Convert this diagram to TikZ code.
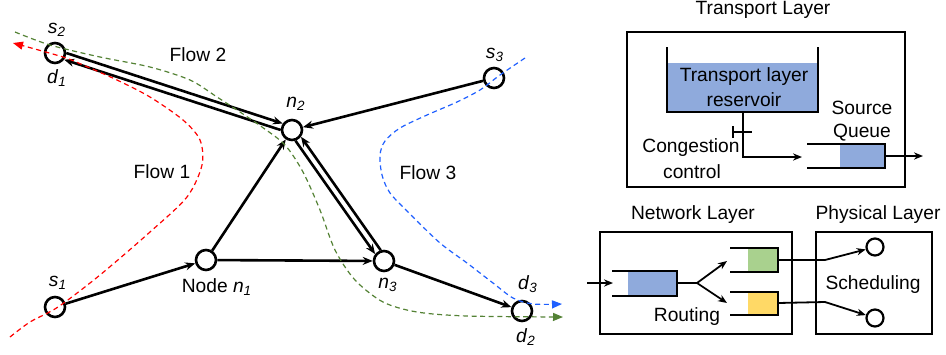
\documentclass[tikz,border=0pt]{standalone}
\usepackage{fontspec}
\setmainfont{Liberation Sans}
\usetikzlibrary{arrows.meta}
\definecolor{flowred}{HTML}{FF0000}
\definecolor{flowgreen}{HTML}{548235}
\definecolor{flowblue}{HTML}{1F5FFF}
\definecolor{qblue}{HTML}{8FAADC}
\definecolor{qgreen}{HTML}{A9D18E}
\definecolor{qyellow}{HTML}{FFD966}
\newcommand{\nlbl}[2]{\textit{#1}\textsubscript{\textit{#2}}}

\begin{document}
\begin{tikzpicture}[x=0.5pt,y=-0.5pt,font=\fontsize{9.6}{11}\selectfont,
    vertex/.style={circle,draw,line width=1.3pt,minimum size=10pt,inner sep=0pt},
    port/.style={circle,draw,line width=1.1pt,minimum size=8.5pt,inner sep=0pt},
    arr/.style={-{Stealth[length=5pt,width=4pt]},line width=1.3pt},
    link/.style={line width=0.9pt},
    linkarr/.style={-{Stealth[length=4.5pt,width=3.6pt]},line width=0.9pt},
    flow/.style={dash pattern=on 2.5pt off 1.8pt,line width=0.6pt,-{Triangle[length=5pt,width=4pt]}},
    wall/.style={line width=1.3pt}]
        \useasboundingbox (0,0) rectangle (946,354);
        % Draw the nodes of the network
        \node[vertex] (s2) at (55,53) {};
        \node[vertex] (n2) at (292,130) {};
        \node[vertex] (s3) at (494,78) {};
        \node[vertex] (n1) at (206,260) {};
        \node[vertex] (s1) at (55,307) {};
        \node[vertex] (n3) at (384,261) {};
        \node[vertex] (d2) at (522,311) {};
        % Draw the node labels
        \node (s2lbl) at (57,30) {\nlbl{s}{2}};
        \node (d1lbl) at (57,78) {\nlbl{d}{1}};
        \node (n2lbl) at (296,104) {\nlbl{n}{2}};
        \node (s3lbl) at (495,55) {\nlbl{s}{3}};
        \node (n1lbl) at (217,287) {Node \nlbl{n}{1}};
        \node (s1lbl) at (58,283) {\nlbl{s}{1}};
        \node (n3lbl) at (388,285) {\nlbl{n}{3}};
        \node (d3lbl) at (528,284) {\nlbl{d}{3}};
        \node (d2lbl) at (526,337) {\nlbl{d}{2}};
        % Draw the links
        \draw[arr] (s2.0) -- (n2.145);
        \draw[arr] (n2.180) -- (s2.-36);
        \draw[arr] (s3) -- (n2);
        \draw[arr] (n1) -- (n2);
        \draw[arr] (s1) -- (n1);
        \draw[arr] (n1) -- (n3);
        \draw[arr] (n2.-72) -- (n3.142);
        \draw[arr] (n3.107) -- (n2.-37);
        \draw[arr] (n3) -- (d2);
        % Draw the flows
        \draw[flow,flowred] plot[smooth] coordinates {(10,337) (30,322) (58,307) (100,275) (150,232) (187,197) (202,165) (200,140) (183,120) (150,97) (117,80) (83,65) (63,57) (13,43)};
        \draw[flow,flowgreen] plot[smooth] coordinates {(15,32) (50,45) (100,57) (150,67) (190,80) (217,97) (240,112) (262,127) (285,145) (303,172) (320,210) (335,250) (355,280) (383,302) (417,312) (467,316) (563,317)};
        \draw[flow,flowblue] plot[smooth] coordinates {(525,58) (500,75) (480,90) (457,102) (427,115) (400,128) (385,141) (380,155) (382,175) (390,193) (410,214) (440,243) (467,263) (493,283) (513,298) (533,304) (562,304)};
        \node (flow1) at (162,172) {Flow 1};
        \node (flow2) at (198,55) {Flow 2};
        \node (flow3) at (428,173) {Flow 3};
        % Draw the transport layer
        \node (tlayer) at (763,10) {Transport Layer};
        \draw[wall] (627,32) rectangle (905,187);
        \fill[qblue] (667,63) rectangle (818,112);
        \draw[wall] (667,47) -- (667,112) -- (818,112) -- (818,47);
        \node (res1) at (744,77) {Transport layer};
        \node (res2) at (744,100) {reservoir};
        \draw[linkarr] (743,112) -- (743,157) -- (802,157);
        \draw[link] (733,126) -- (733,138);
        \draw[link] (733,132) -- (752,132);
        \node (cc1) at (691,148) {Congestion};
        \node (cc2) at (692,172) {control};
        \node (sq1) at (862,108) {Source};
        \node (sq2) at (862,133) {Queue};
        \fill[qblue] (840,144) rectangle (885,168);
        \draw[wall] (807,144) -- (885,144) -- (885,168) -- (807,168);
        \draw[linkarr] (885,156) -- (923,156);
        % Draw the network layer
        \node (nlayer) at (693,215) {Network Layer};
        \draw[wall] (600,232) rectangle (792,334);
        \draw[linkarr] (587,283) -- (613,283);
        \fill[qblue] (628,271) rectangle (677,296);
        \draw[wall] (612,271) -- (677,271) -- (677,296) -- (612,296);
        \draw[link] (677,283) -- (697,283);
        \draw[linkarr] (697,283) -- (727,261);
        \draw[linkarr] (697,283) -- (727,303);
        \fill[qgreen] (748,248) rectangle (778,272);
        \draw[wall] (730,248) -- (778,248) -- (778,272) -- (730,272);
        \fill[qyellow] (748,292) rectangle (778,315);
        \draw[wall] (730,292) -- (778,292) -- (778,315) -- (730,315);
        \node (routing) at (687,317) {Routing};
        % Draw the physical layer
        \node (player) at (878,215) {Physical Layer};
        \draw[wall] (816,232) rectangle (932,334);
        \node[port] (p1) at (875,247) {};
        \node[port] (p2) at (875,318) {};
        \draw[linkarr] (778,260) -- (825,260) -- (p1);
        \draw[linkarr] (778,303) -- (825,302) -- (p2);
        \node (sched) at (873,285) {Scheduling};
    \end{tikzpicture}
\end{document}
